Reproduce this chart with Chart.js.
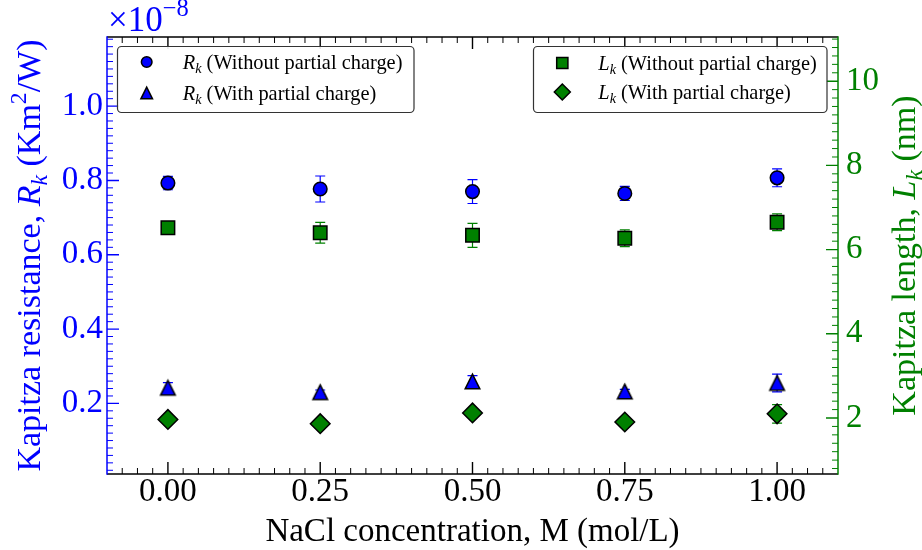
<!DOCTYPE html>
<html>
<head>
<meta charset="utf-8">
<script src="https://cdn.jsdelivr.net/npm/chart.js@4.4.1/dist/chart.umd.min.js"></script>
<style>
  html, body { margin: 0; padding: 0; background: #fff; }
  #wrap { width: 922px; height: 550px; }
</style>
</head>
<body>
<div id="wrap"><canvas id="c" width="922" height="550"></canvas></div>
<script>
// ── data ────────────────────────────────────────────────────
const CONC = [0.00, 0.25, 0.50, 0.75, 1.00];

// Kapitza resistance, in units of 1e-8 K m^2/W
const RK_NO_PC     = [0.793, 0.777, 0.770, 0.765, 0.807];
const RK_NO_PC_ERR = [0.018, 0.035, 0.032, 0.019, 0.024];
const RK_PC        = [0.242, 0.230, 0.259, 0.232, 0.255];
const RK_PC_ERR    = [0.014, 0.006, 0.016, 0.006, 0.024];

// Kapitza length, nm
const LK_NO_PC     = [6.52, 6.40, 6.34, 6.27, 6.65];
const LK_NO_PC_ERR = [0.10, 0.245, 0.285, 0.20, 0.20];
const LK_PC        = [1.965, 1.865, 2.12, 1.905, 2.10];
const LK_PC_ERR    = [0.05, 0.05, 0.05, 0.05, 0.22];

const X_TICKS  = [0, 0.25, 0.5, 0.75, 1.0];
const Y_TICKS  = [0.2, 0.4, 0.6, 0.8, 1.0];
const Y2_TICKS = [2, 4, 6, 8, 10];

const NOTE_NO = '(Without partial charge)';
const NOTE_PC = '(With partial charge)';

const BLUE = '#0000ff', GREEN = '#008000';
const FONT = '"Liberation Serif", "DejaVu Serif", serif';

// matplotlib style '^' marker (width == height, centred on its box)
function triangleMarker(half, fill) {
  const n = Math.ceil(half * 2 + 4);
  const cv = document.createElement('canvas');
  cv.width = n; cv.height = n;
  const g = cv.getContext('2d'), c = n / 2;
  g.beginPath();
  g.moveTo(c, c - half); g.lineTo(c - half, c + half); g.lineTo(c + half, c + half);
  g.closePath();
  g.fillStyle = fill; g.fill();
  g.lineWidth = 1.5; g.strokeStyle = '#000'; g.stroke();
  return cv;
}

function drawMarker(ctx, shape, x, y, s, fill) {
  ctx.beginPath();
  if (shape === 'circle') ctx.arc(x, y, s, 0, Math.PI * 2);
  else if (shape === 'triangle') { ctx.moveTo(x, y - s); ctx.lineTo(x - s, y + s); ctx.lineTo(x + s, y + s); ctx.closePath(); }
  else if (shape === 'rect') ctx.rect(x - s, y - s, 2 * s, 2 * s);
  else { ctx.moveTo(x, y - s); ctx.lineTo(x + s, y); ctx.lineTo(x, y + s); ctx.lineTo(x - s, y); ctx.closePath(); }
  ctx.fillStyle = fill; ctx.fill();
  ctx.lineWidth = 1.5; ctx.strokeStyle = '#000'; ctx.stroke();
}

// text with italic / sub / superscript pieces
function partFont(p, size) {
  const s = (p.sub || p.sup) ? size * 0.7 : size;
  return `${p.it ? 'italic ' : ''}${s}px ${FONT}`;
}
function richWidth(ctx, parts, size) {
  return parts.reduce((w, p) => { ctx.font = partFont(p, size); return w + ctx.measureText(p.t).width; }, 0);
}
function drawRich(ctx, parts, x, y, size, color, align) {
  let cx = align === 'center' ? x - richWidth(ctx, parts, size) / 2 : x;
  ctx.fillStyle = color;
  ctx.textBaseline = 'alphabetic';
  ctx.textAlign = 'left';
  parts.forEach(p => {
    ctx.font = partFont(p, size);
    const dy = p.sub ? size * 0.22 : p.sup ? -size * 0.42 : 0;
    ctx.fillText(p.t, cx, y + dy);
    cx += ctx.measureText(p.t).width;
  });
}

const pts = (ys) => CONC.map((x, i) => ({ x, y: ys[i] }));

const datasets = [
  { label: 'Rk no pc', data: pts(RK_NO_PC), yAxisID: 'y', errors: RK_NO_PC_ERR, errColor: BLUE,
    pointStyle: 'circle', pointRadius: 6.8, pointBackgroundColor: BLUE,
    sym: 'R', note: NOTE_NO, shape: 'circle', group: 0 },
  { label: 'Rk pc', data: pts(RK_PC), yAxisID: 'y', errors: RK_PC_ERR, errColor: BLUE,
    pointStyle: triangleMarker(7.3, BLUE), pointRadius: 8, pointBackgroundColor: BLUE,
    sym: 'R', note: NOTE_PC, shape: 'triangle', group: 0 },
  { label: 'Lk no pc', data: pts(LK_NO_PC), yAxisID: 'y2', errors: LK_NO_PC_ERR, errColor: GREEN,
    pointStyle: 'rect', pointRadius: 9.5, pointBackgroundColor: GREEN,
    sym: 'L', note: NOTE_NO, shape: 'rect', group: 1 },
  { label: 'Lk pc', data: pts(LK_PC), yAxisID: 'y2', errors: LK_PC_ERR, errColor: GREEN,
    pointStyle: 'rectRot', pointRadius: 9.8, pointBackgroundColor: GREEN,
    sym: 'L', note: NOTE_PC, shape: 'rectRot', group: 1 },
].map(d => Object.assign({ showLine: false, pointBorderColor: '#000', pointBorderWidth: 1.5 }, d));

const errorBars = {
  id: 'errorBars',
  beforeDatasetsDraw(chart) {
    const ctx = chart.ctx;
    chart.data.datasets.forEach((ds, i) => {
      const ys = chart.scales[ds.yAxisID];
      ctx.save();
      ctx.strokeStyle = ds.errColor;
      ctx.lineWidth = 1.2;
      chart.getDatasetMeta(i).data.forEach((pt, j) => {
        const v = ds.data[j].y, e = ds.errors[j];
        const y1 = ys.getPixelForValue(v + e), y2 = ys.getPixelForValue(v - e);
        ctx.beginPath();
        ctx.moveTo(pt.x, y1); ctx.lineTo(pt.x, y2);
        ctx.moveTo(pt.x - 5, y1); ctx.lineTo(pt.x + 5, y1);
        ctx.moveTo(pt.x - 5, y2); ctx.lineTo(pt.x + 5, y2);
        ctx.stroke();
      });
      ctx.restore();
    });
  }
};

function minorVals(min, max, step, majors) {
  const out = [];
  for (let k = Math.ceil(min / step + 1e-6); k * step < max - 1e-6; k++) {
    const v = +(k * step).toFixed(6);
    if (!majors.some(m => Math.abs(m - v) < 1e-6)) out.push(v);
  }
  return out;
}

const frame = {
  id: 'frame',
  afterDatasetsDraw(chart) {
    const { ctx, chartArea: a, scales } = chart;
    ctx.save();
    ctx.lineCap = 'butt';

    const tick = (color, width, segs) => {
      ctx.strokeStyle = color; ctx.lineWidth = width;
      ctx.beginPath();
      segs.forEach(s => { ctx.moveTo(s[0], s[1]); ctx.lineTo(s[2], s[3]); });
      ctx.stroke();
    };
    const sx = scales.x, sy = scales.y, sy2 = scales.y2;

    // x ticks, bottom and top, pointing in
    const xMaj = X_TICKS.map(v => sx.getPixelForValue(v));
    const xMin = minorVals(sx.min, sx.max, 0.025, X_TICKS).map(v => sx.getPixelForValue(v));
    tick('#000', 1.4, xMaj.flatMap(p => [[p, a.bottom, p, a.bottom - 12], [p, a.top, p, a.top + 12]]));
    tick('#000', 1, xMin.flatMap(p => [[p, a.bottom, p, a.bottom - 6], [p, a.top, p, a.top + 6]]));

    // left (R_k) ticks
    const yMaj = Y_TICKS.map(v => sy.getPixelForValue(v));
    const yMin = minorVals(sy.min, sy.max, 0.02, Y_TICKS).map(v => sy.getPixelForValue(v));
    tick(BLUE, 1.4, yMaj.map(p => [a.left, p, a.left + 12, p]));
    tick(BLUE, 1, yMin.map(p => [a.left, p, a.left + 6, p]));

    // right (L_k) ticks
    const y2Maj = Y2_TICKS.map(v => sy2.getPixelForValue(v));
    const y2Min = minorVals(sy2.min, sy2.max, 0.2, Y2_TICKS).map(v => sy2.getPixelForValue(v));
    tick(GREEN, 1.4, y2Maj.map(p => [a.right, p, a.right - 12, p]));
    tick(GREEN, 1, y2Min.map(p => [a.right, p, a.right - 6, p]));

    // spines
    tick('#000', 1.5, [[a.left, a.top, a.right, a.top], [a.left, a.bottom, a.right, a.bottom]]);
    tick(BLUE, 1.5, [[a.left, a.top - 0.75, a.left, a.bottom + 0.75]]);
    tick(GREEN, 1.5, [[a.right, a.top - 0.75, a.right, a.bottom + 0.75]]);

    // legends: one box for each axis
    const boxes = [
      { x: 117.5, y: 46.5, w: 296.5, h: 66, mx: 146.7, tx: 182.7, rows: [62, 93] },
      { x: 533.5, y: 46.5, w: 293.5, h: 66, mx: 562.3, tx: 598.3, rows: [63, 92] },
    ];
    const legendSize = { circle: 5.3, triangle: 5.8, rect: 5.6, rectRot: 8 };
    boxes.forEach((b, g) => {
      const r = 4;
      ctx.beginPath();
      ctx.moveTo(b.x + r, b.y);
      ctx.arcTo(b.x + b.w, b.y, b.x + b.w, b.y + b.h, r);
      ctx.arcTo(b.x + b.w, b.y + b.h, b.x, b.y + b.h, r);
      ctx.arcTo(b.x, b.y + b.h, b.x, b.y, r);
      ctx.arcTo(b.x, b.y, b.x + b.w, b.y, r);
      ctx.closePath();
      ctx.fillStyle = 'rgba(255,255,255,0.9)'; ctx.fill();
      ctx.strokeStyle = '#333'; ctx.lineWidth = 1.2; ctx.stroke();

      chart.data.datasets.filter(d => d.group === g).forEach((d, k) => {
        const yy = b.rows[k];
        drawMarker(ctx, d.shape, b.mx, yy, legendSize[d.shape], d.pointBackgroundColor);
        drawRich(ctx, [{ t: d.sym, it: true }, { t: 'k', it: true, sub: true }, { t: ' ' + d.note }],
          b.tx, yy + 6.5, 20.4, '#000', 'left');
      });
    });

    // axis titles and offset text
    drawRich(ctx, [{ t: 'NaCl concentration, M (mol/L)' }], (a.left + a.right) / 2, 541, 33, '#000', 'center');
    const midY = (a.top + a.bottom) / 2;
    ctx.save();
    ctx.translate(40, midY); ctx.rotate(-Math.PI / 2);
    drawRich(ctx, [{ t: 'Kapitza resistance, ' }, { t: 'R', it: true }, { t: 'k', it: true, sub: true },
      { t: ' (Km' }, { t: '2', sup: true }, { t: '/W)' }], 0, 0, 34, BLUE, 'center');
    ctx.restore();
    ctx.save();
    ctx.translate(915, midY); ctx.rotate(-Math.PI / 2);
    drawRich(ctx, [{ t: 'Kapitza length, ' }, { t: 'L', it: true }, { t: 'k', it: true, sub: true },
      { t: ' (nm)' }], 0, 0, 34, GREEN, 'center');
    ctx.restore();
    drawRich(ctx, [{ t: '×10' }, { t: '−8', sup: true }], a.left + 1, 31, 35, BLUE, 'left');

    ctx.restore();
  }
};

const tickFont = { family: FONT, size: 33, lineHeight: 1 };

new Chart(document.getElementById('c'), {
  type: 'scatter',
  data: { datasets },
  options: {
    responsive: false,
    animation: false,
    devicePixelRatio: 1,
    events: [],
    layout: { padding: { top: 37, left: 0, right: 0, bottom: 0 } },
    plugins: { legend: { display: false }, tooltip: { enabled: false } },
    scales: {
      x: {
        type: 'linear', position: 'bottom', min: -0.1, max: 1.1,
        grid: { display: false, drawTicks: false }, border: { display: false },
        afterBuildTicks: s => { s.ticks = X_TICKS.map(v => ({ value: v })); },
        afterFit: s => { s.height = 76; },
        ticks: { font: tickFont, color: '#000', padding: 2, autoSkip: false, maxRotation: 0,
                 callback: v => v.toFixed(2) }
      },
      y: {
        type: 'linear', position: 'left', min: 0.01, max: 1.186,
        grid: { display: false, drawTicks: false }, border: { display: false },
        afterBuildTicks: s => { s.ticks = Y_TICKS.map(v => ({ value: v })); },
        afterFit: s => { s.width = 107; },
        ticks: { font: tickFont, color: BLUE, padding: 4, autoSkip: false,
                 callback: v => v.toFixed(1) }
      },
      y2: {
        type: 'linear', position: 'right', min: 0.67, max: 11.05,
        grid: { display: false, drawTicks: false }, border: { display: false },
        afterBuildTicks: s => { s.ticks = Y2_TICKS.map(v => ({ value: v })); },
        afterFit: s => { s.width = 84; },
        ticks: { font: tickFont, color: GREEN, padding: 8, autoSkip: false,
                 callback: v => String(v) }
      }
    }
  },
  plugins: [errorBars, frame]
});
</script>
</body>
</html>
